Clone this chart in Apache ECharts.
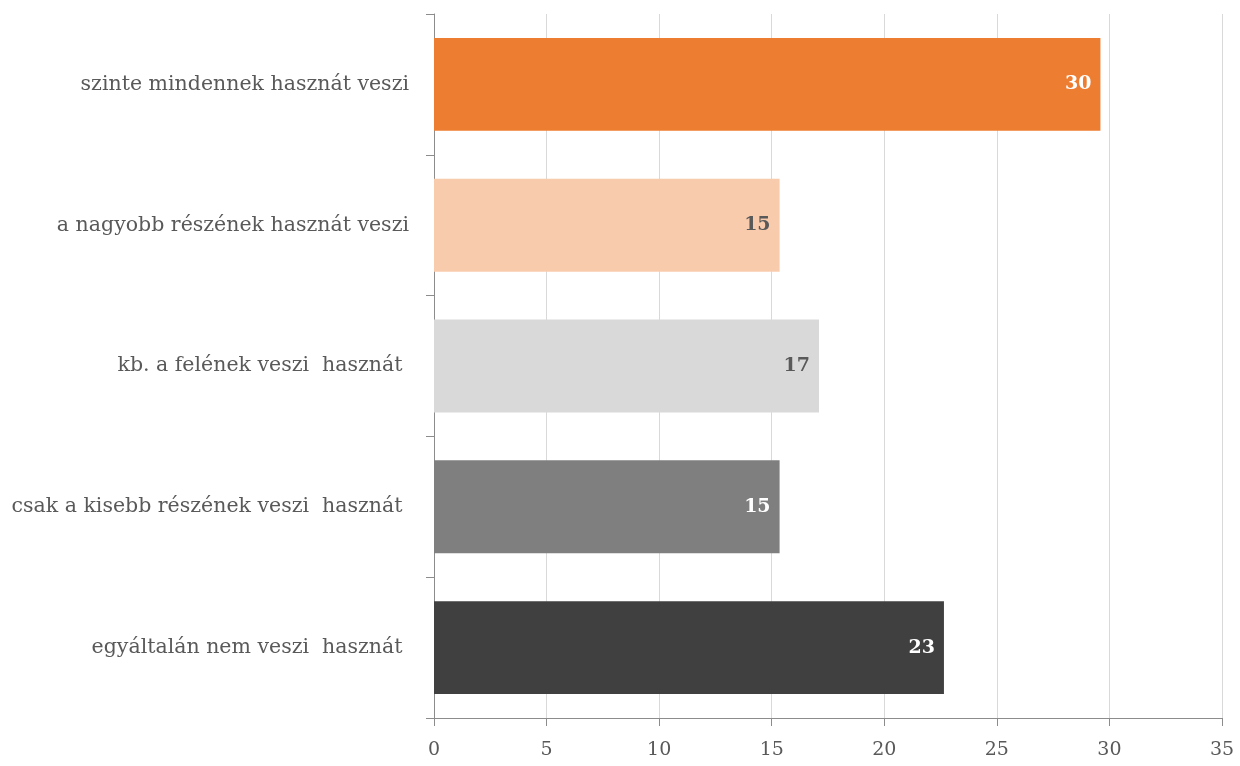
<!DOCTYPE html>
<html><head><meta charset="utf-8">
<script src="https://cdn.jsdelivr.net/npm/echarts@6/dist/echarts.min.js"></script>
<style>html,body{margin:0;padding:0;background:#fff}#c{width:1240px;height:766px}</style>
</head><body><div id="c"></div>
<script>
const categories = ['szinte mindennek hasznát veszi','a nagyobb részének hasznát veszi','kb. a felének veszi  hasznát ','csak a kisebb részének veszi  hasznát ','egyáltalán nem veszi  hasznát '];
const values = [29.6, 15.35, 17.1, 15.35, 22.65];
const barColors = ['#ED7D31','#F8CBAD','#D9D9D9','#7F7F7F','#404040'];
const labelColors = ['#ffffff','#595959','#595959','#ffffff','#ffffff'];
const xTicks = [0,5,10,15,20,25,30,35];
const font = '"DejaVu Serif", "Liberation Serif", serif';
const chart = echarts.init(document.getElementById('c'));
chart.setOption({
  animation:false,
  grid:{left:434,right:18,top:14,bottom:48,containLabel:false},
  xAxis:{type:'value',min:xTicks[0],max:xTicks[xTicks.length-1],interval:5,
    axisLine:{show:true,lineStyle:{color:'#8c8c8c',width:1}},
    axisTick:{show:true,length:8,lineStyle:{color:'#8c8c8c'}},
    axisLabel:{color:'#595959',fontFamily:font,fontSize:19,margin:23},
    splitLine:{show:true,lineStyle:{color:'#d9d9d9'}}},
  yAxis:{type:'category',data:categories,inverse:true,
    axisLine:{show:true,lineStyle:{color:'#8c8c8c'}},
    axisTick:{show:true,length:8,inside:false,lineStyle:{color:'#8c8c8c'}},
    axisLabel:{color:'#595959',fontFamily:font,fontSize:20.5,margin:25}},
  series:[{type:'bar',barCategoryGap:'34%',
    data:values.map((v,i)=>({value:v,itemStyle:{color:barColors[i]},
      label:{color:labelColors[i]}})),
    label:{show:true,position:'insideRight',fontFamily:font,fontWeight:'bold',fontSize:19,distance:9,
      formatter:p=>Math.round(p.value)}}]
});
</script></body></html>
